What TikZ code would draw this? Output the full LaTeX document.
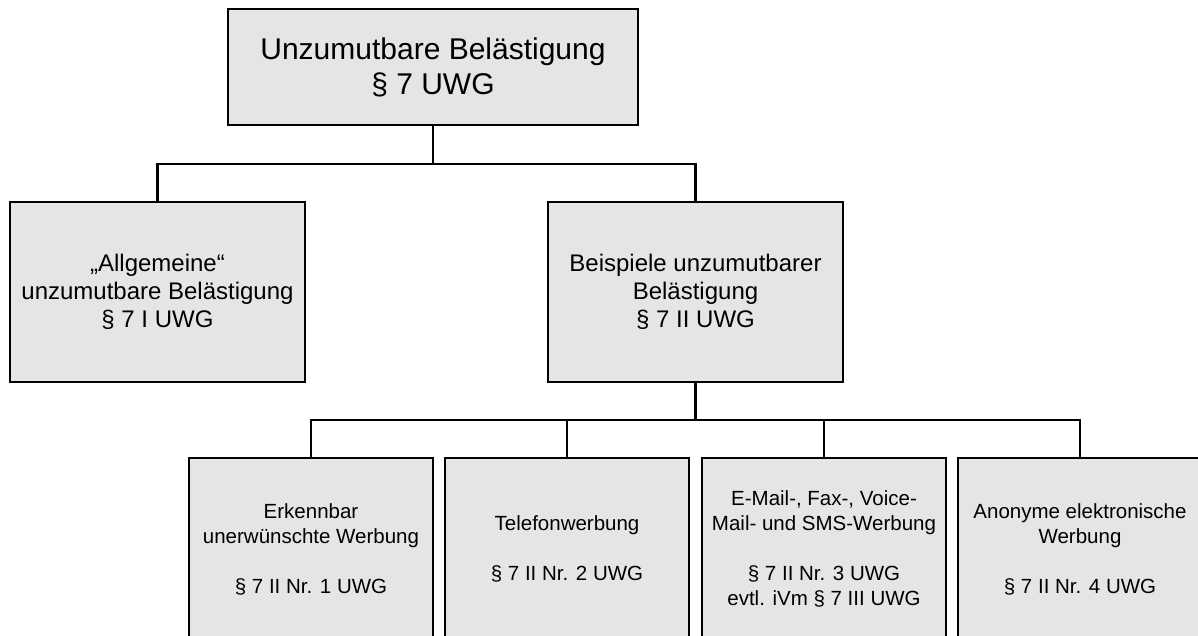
\documentclass[tikz,border=0pt]{standalone}
\usepackage{fontspec}
\setmainfont{Liberation Sans}
\begin{document}
\begin{tikzpicture}[x=1pt,y=-1pt,
    box/.style={draw,line width=2pt,fill=black!10,inner sep=0pt,align=center},
    topbox/.style={box,minimum width=410pt,minimum height=116pt,font=\fontsize{30}{35}\selectfont},
    midbox/.style={box,minimum width=295pt,minimum height=180pt,font=\fontsize{24}{28}\selectfont},
    lowbox/.style={box,minimum width=244pt,minimum height=182pt,font=\fontsize{20.5}{25}\selectfont},
    conn/.style={line width=2.6pt}]
                \useasboundingbox (0,0) rectangle (1198,635);
                %% top
                \node[topbox] (top) at (433,67) {Unzumutbare Belästigung\\§ 7 UWG};
                %% second row
                \node[midbox] (general) at (157.5,292) {„Allgemeine“\\unzumutbare Belästigung\\§ 7 I UWG};
                \node[midbox] (examples) at (695.5,292) {Beispiele unzumutbarer\\Belästigung\\§ 7 II UWG};
                %% third row
                \node[lowbox] (nr1) at (311,549) {Erkennbar\\unerwünschte Werbung\\~\\§ 7 II Nr. 1 UWG};
                \node[lowbox] (nr2) at (567,549) {Telefonwerbung\\~\\§ 7 II Nr. 2 UWG};
                \node[lowbox] (nr3) at (824,549) {E-Mail-, Fax-, Voice-\\Mail- und SMS-Werbung\\~\\§ 7 II Nr. 3 UWG\\evtl. iVm § 7 III UWG};
                \node[lowbox] (nr4) at (1080,549) {Anonyme elektronische\\Werbung\\~\\§ 7 II Nr. 4 UWG};
                %% connectors
                \coordinate (fork1) at (433,164);
                \coordinate (fork2) at (695.5,420);
                \draw[conn] (top.south) -- (fork1);
                \draw[conn] (general.north) |- (fork1) -| (examples.north);
                \draw[conn] (examples.south) -- (fork2);
                \draw[conn] (nr1.north) |- (fork2) -| (nr4.north);
                \draw[conn] (nr2.north) |- (fork2);
                \draw[conn] (nr3.north) |- (fork2);
            \end{tikzpicture}
\end{document}
